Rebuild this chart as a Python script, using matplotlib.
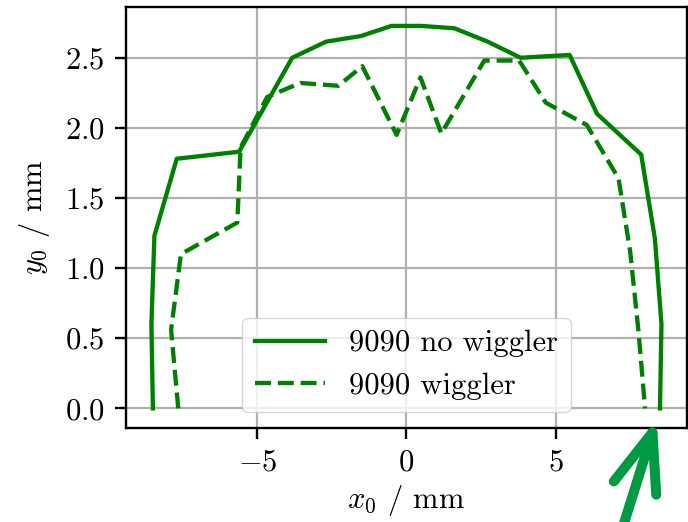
import matplotlib
matplotlib.use("Agg")
import matplotlib.pyplot as plt

# beam centre scan, 9090 configuration
no_wig_x = [-8.5, -8.55, -8.45, -7.7, -5.61, -3.83, -2.69, -1.52, -0.5, 0.5, 1.61,
            2.72, 3.83, 5.47, 6.39, 7.87, 8.33, 8.55, 8.5]
no_wig_y = [0.0, 0.6, 1.23, 1.78, 1.83, 2.50, 2.615, 2.655, 2.727, 2.727, 2.71,
            2.615, 2.50, 2.52, 2.10, 1.81, 1.21, 0.6, 0.0]

wig_x = [-7.65, -7.89, -7.56, -5.67, -5.56, -4.67, -3.56, -2.28, -1.48, -0.33, 0.47,
         1.17, 2.61, 3.78, 4.67, 6.05, 7.11, 7.5, 7.78, 8.0]
wig_y = [0.0, 0.56, 1.10, 1.325, 1.86, 2.22, 2.32, 2.30, 2.44, 1.95, 2.36,
         1.96, 2.48, 2.48, 2.18, 2.02, 1.64, 1.12, 0.55, 0.0]

plt.rcParams['font.family'] = 'serif'
plt.rcParams['font.serif'] = ['cmr10']
plt.rcParams['mathtext.fontset'] = 'cm'
plt.rcParams['axes.formatter.use_mathtext'] = True
plt.rcParams['font.size'] = 22

fig = plt.figure(figsize=(6.88, 5.22), dpi=100)
ax = fig.add_axes([0.183, 0.181, 0.8155, 0.806])

ax.plot(no_wig_x, no_wig_y, color='green', lw=3.1, label='9090 no wiggler')
ax.plot(wig_x, wig_y, color='green', lw=3.1, ls='--', label='9090 wiggler')

ax.set_xlabel(r'$x_0$ / mm', labelpad=5)
ax.set_ylabel(r'$y_0$ / mm', labelpad=8.8)
ax.set_yticks([0.0, 0.5, 1.0, 1.5, 2.0, 2.5])
ax.grid(True, color='#b0b0b0', lw=1.6)
ax.tick_params(length=7.7, width=1.7, pad=7.7)
for sp in ax.spines.values():
    sp.set_linewidth(1.7)

ax.legend(loc='lower center', handlelength=2.3)

# mark the right-hand end of the scan
ax.annotate('', xy=(no_wig_x[-1], no_wig_y[-1]), xycoords='data',
            xytext=(-36, -115), textcoords='offset pixels',
            annotation_clip=False,
            arrowprops=dict(arrowstyle='->, head_length=42, head_width=16',
                            mutation_scale=1, color='#009944', lw=7.2,
                            shrinkA=0, shrinkB=8, capstyle='round',
                            joinstyle='round'))

fig.savefig('out.png', dpi=100)
